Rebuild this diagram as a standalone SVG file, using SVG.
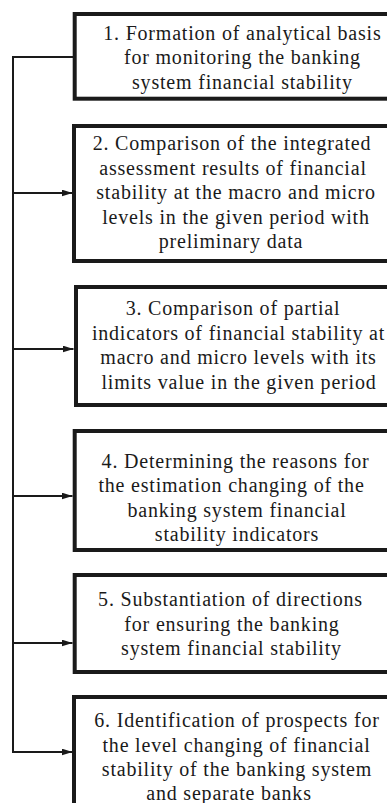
<svg xmlns="http://www.w3.org/2000/svg" width="387" height="803" viewBox="0 0 387 803">
<style>
.box{fill:#ffffff;stroke:#1a1a1a;stroke-width:4}
.t{font-family:"Liberation Serif","Times New Roman",serif;font-size:20px;letter-spacing:0.8px;fill:#1a1a1a;text-anchor:middle}
.c{fill:none;stroke:#1a1a1a;stroke-width:2}
</style>
<defs>
<marker id="ah" markerUnits="userSpaceOnUse" markerWidth="12" markerHeight="8" refX="11" refY="3.5" orient="auto">
<path d="M0,0 L11,3.5 L0,7 z" fill="#1a1a1a"/>
</marker>
</defs>
<rect width="387" height="803" fill="#ffffff"/>
<g id="connectors">
<path class="c" d="M73,57 H13 V753"/>
<path class="c" d="M13,193 H72.5" marker-end="url(#ah)"/>
<path class="c" d="M13,349 H73.5" marker-end="url(#ah)"/>
<path class="c" d="M13,496 H72.5" marker-end="url(#ah)"/>
<path class="c" d="M13,643 H72.5" marker-end="url(#ah)"/>
<path class="c" d="M13,752 H72.5" marker-end="url(#ah)"/>
</g>
<g id="node1">
<rect class="box" x="74.7" y="14" width="340" height="84.7"/>
<text class="t" y="39.5"><tspan x="242.4">1. Formation of analytical basis</tspan><tspan x="242.4" y="64">for monitoring the banking</tspan><tspan x="242.4" y="88.5">system financial stability</tspan></text>
</g>
<g id="node2">
<rect class="box" x="74" y="126" width="340" height="135"/>
<text class="t" y="150"><tspan x="232">2. Comparison of the integrated</tspan><tspan x="233" y="174.5">assessment results of financial</tspan><tspan x="236" y="199">stability at the macro and micro</tspan><tspan x="236" y="223.5">levels in the given period with</tspan><tspan x="231" y="248">preliminary data</tspan></text>
</g>
<g id="node3">
<rect class="box" x="76" y="287" width="340" height="118"/>
<text class="t" y="315"><tspan x="233">3. Comparison of partial</tspan><tspan x="238.5" y="339.5">indicators of financial stability at</tspan><tspan x="238.5" y="364">macro and micro levels with its</tspan><tspan x="239" y="388.5">limits value in the given period</tspan></text>
</g>
<g id="node4">
<rect class="box" x="74.7" y="431" width="340" height="119"/>
<text class="t" y="467.7"><tspan x="235.5">4. Determining the reasons for</tspan><tspan x="231.5" y="492">the estimation changing of the</tspan><tspan x="237" y="516.5">banking system financial</tspan><tspan x="237" y="541">stability indicators</tspan></text>
</g>
<g id="node5">
<rect class="box" x="74.7" y="575" width="340" height="97"/>
<text class="t" y="606"><tspan x="230.5">5. Substantiation of directions</tspan><tspan x="232" y="630.5">for ensuring the banking</tspan><tspan x="231.5" y="655">system financial stability</tspan></text>
</g>
<g id="node6">
<rect class="box" x="74" y="697" width="340" height="200"/>
<text class="t" y="727"><tspan x="237">6. Identification of prospects for</tspan><tspan x="236.5" y="751.5">the level changing of financial</tspan><tspan x="237" y="776">stability of the banking system</tspan><tspan x="229" y="800">and separate banks</tspan></text>
</g>
</svg>
